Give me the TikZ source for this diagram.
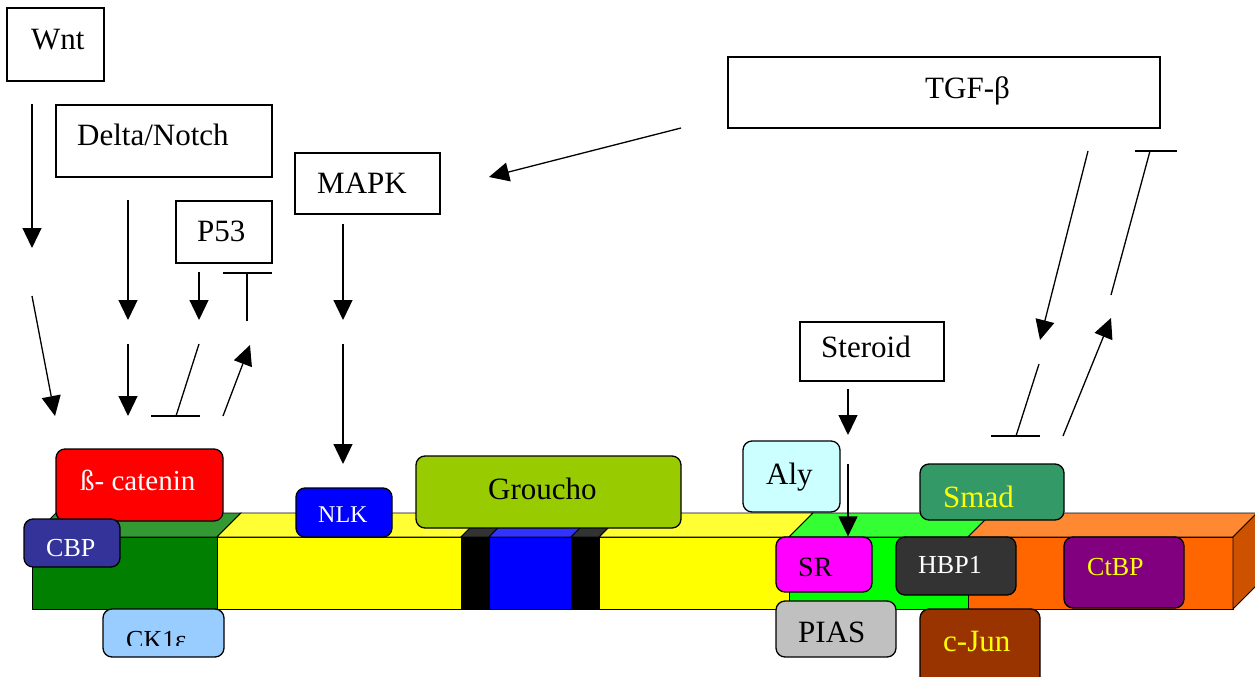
\documentclass[tikz,border=0pt]{standalone}
\usepackage{fontspec}
\setmainfont{Liberation Serif}
\usetikzlibrary{arrows.meta}
\newcommand\fsz[1]{\fontsize{#1}{#1}\selectfont}

% colours of the protein bar
\definecolor{grnfront}{HTML}{007F00}
\definecolor{grntop}{HTML}{339933}
\definecolor{yelfront}{HTML}{FFFF00}
\definecolor{yeltop}{HTML}{FFFF33}
\definecolor{blkfront}{HTML}{000000}
\definecolor{blktop}{HTML}{333333}
\definecolor{blufront}{HTML}{0000FF}
\definecolor{blutop}{HTML}{3333FF}
\definecolor{limefront}{HTML}{00FF00}
\definecolor{limetop}{HTML}{33FF33}
\definecolor{orgfront}{HTML}{FF6600}
\definecolor{orgtop}{HTML}{FF8833}
\definecolor{orgside}{HTML}{CC5200}
% colours of the partner proteins
\definecolor{cbpcol}{HTML}{333399}
\definecolor{ckcol}{HTML}{99CCFF}
\definecolor{grocol}{HTML}{99CC00}
\definecolor{alycol}{HTML}{CCFFFF}
\definecolor{srcol}{HTML}{FF00FF}
\definecolor{piascol}{HTML}{C0C0C0}
\definecolor{smadcol}{HTML}{339966}
\definecolor{ctbpcol}{HTML}{800080}
\definecolor{juncol}{HTML}{993300}
\definecolor{hbpcol}{HTML}{333333}
\definecolor{labelyellow}{HTML}{FFFF00}

% one coloured segment of the bar: front face and top face
\newcommand\barpart[4]{%
  \filldraw[face, fill=#3] (#1,537) rectangle (#2,609);
  \filldraw[face, fill=#4] (#1,537) -- (#2,537) -- (#2+24,513) -- (#1+24,513) -- cycle;}

\begin{document}
\begin{tikzpicture}[x=1pt, y=-1pt,
  face/.style={draw=black, line width=0.9pt},
  sig/.style={draw=black, line width=1.4pt, fill=white, rectangle, inner sep=0pt},
  prot/.style={draw=black, line width=1.3pt, rectangle, rounded corners=9pt, inner sep=0pt},
  txt/.style={anchor=base west, inner sep=0pt, font=\fsz{31}},
  stxt/.style={anchor=base west, inner sep=0pt, font=\fsz{26}},
  act/.style={line width=1.3pt, -{Triangle[length=20pt, width=19pt]}},
  blk/.style={line width=1.3pt}]
\useasboundingbox (0,0) rectangle (1255,677);
\fill[white] (0,0) rectangle (1255,677);

% ---------- the protein bar ----------
\barpart{32}{217}{grnfront}{grntop}
\barpart{217}{461}{yelfront}{yeltop}
\barpart{599}{789}{yelfront}{yeltop}
\barpart{461}{489}{blkfront}{blktop}
\barpart{489}{571}{blufront}{blutop}
\barpart{571}{599}{blkfront}{blktop}
\barpart{789}{968}{limefront}{limetop}
\barpart{968}{1233}{orgfront}{orgtop}
\filldraw[face, fill=orgside] (1233,537) -- (1233,609) -- (1257,585) -- (1257,513) -- cycle;

% ---------- signal boxes ----------
\node[sig, minimum width=97pt, minimum height=73pt] (wnt) at (55.5,44.5) {};
\node[txt] (wntt) at (31,49) {Wnt};
\node[sig, minimum width=216pt, minimum height=72pt] (delta) at (164,141) {};
\node[txt] (deltat) at (77,145) {Delta/Notch};
\node[sig, minimum width=145pt, minimum height=61pt] (mapk) at (367.5,183.5) {};
\node[txt] (mapkt) at (317,193) {MAPK};
\node[sig, minimum width=96pt, minimum height=62pt] (p53) at (224,232) {};
\node[txt] (p53t) at (197,241) {P53};
\node[sig, minimum width=432pt, minimum height=71pt] (tgf) at (944,92.5) {};
\node[txt] (tgft) at (925,99) {TGF-β};
\node[sig, minimum width=144pt, minimum height=59pt] (steroid) at (872,351.5) {};
\node[txt] (steroidt) at (821,357) {Steroid};

% ---------- partner proteins ----------
\node[prot, fill=red, minimum width=167pt, minimum height=72pt] (bcat) at (139.5,485) {};
\node[txt, font=\fsz{29}, text=white] (bcatt) at (80,490) {ß- catenin};
\node[prot, fill=cbpcol, minimum width=96pt, minimum height=48pt] (cbp) at (72,543) {};
\node[stxt, text=white] (cbpt) at (46,556) {CBP};
\node[prot, fill=ckcol, minimum width=121pt, minimum height=48pt] (ck) at (163.5,633) {};
\begin{scope}
  \clip (100,600) rectangle (230,645);
  \node[stxt] (ckt) at (126,648) {CK1ε};
\end{scope}
\node[prot, fill=blue, minimum width=96pt, minimum height=49pt] (nlk) at (344,512.5) {};
\node[stxt, font=\fsz{24}, text=white] (nlkt) at (318,522) {NLK};
\node[prot, fill=grocol, minimum width=265pt, minimum height=72pt] (groucho) at (548.5,492) {};
\node[txt] (grouchot) at (488,499) {Groucho};
\node[prot, fill=alycol, minimum width=97pt, minimum height=71pt] (aly) at (791.5,476.5) {};
\node[txt] (alyt) at (766,484) {Aly};
\node[prot, fill=srcol, minimum width=96pt, minimum height=55pt] (sr) at (824,564.5) {};
\node[stxt, font=\fsz{28}] (srt) at (798,576) {SR};
\node[prot, fill=piascol, minimum width=120pt, minimum height=56pt] (pias) at (836,629) {};
\node[txt] (piast) at (798,642) {PIAS};
\node[prot, fill=hbpcol, minimum width=120pt, minimum height=58pt] (hbp) at (956,566) {};
\node[stxt, text=white] (hbpt) at (918,573) {HBP1};
\node[prot, fill=smadcol, minimum width=144pt, minimum height=56pt] (smad) at (992,492) {};
\node[txt, text=labelyellow] (smadt) at (943,507) {Smad};
\node[prot, fill=ctbpcol, minimum width=120pt, minimum height=71pt] (ctbp) at (1124,572.5) {};
\node[stxt, text=labelyellow] (ctbpt) at (1087,575) {CtBP};
\node[prot, fill=juncol, minimum width=120pt, minimum height=81pt] (cjun) at (980,649.5) {};
\node[txt, text=labelyellow] (cjunt) at (943,651) {c-Jun};

% ---------- connector end points ----------
\coordinate (wa) at (32,104);   \coordinate (wb) at (32,248);
\coordinate (wc) at (32,296);   \coordinate (wd) at (55,416);
\coordinate (da) at (128,200);  \coordinate (db) at (128,320);
\coordinate (dc) at (128,344);  \coordinate (dd) at (128,416);
\coordinate (pa) at (199,272);  \coordinate (pb) at (199,320);
\coordinate (pc) at (247,321);  \coordinate (pd) at (247,273);
\coordinate (pbl) at (223,273); \coordinate (pbr) at (272,273);
\coordinate (pe) at (199,344);  \coordinate (pf) at (176,416);
\coordinate (pfl) at (151,416); \coordinate (pfr) at (200,416);
\coordinate (pg) at (223,416);  \coordinate (ph) at (250,345);
\coordinate (ma) at (343,224);  \coordinate (mb) at (343,320);
\coordinate (mc) at (343,344);  \coordinate (md) at (343,464);
\coordinate (ta) at (681,128);  \coordinate (tb) at (489,177);
\coordinate (tc) at (1088,151); \coordinate (td) at (1040,340);
\coordinate (te) at (1111,295); \coordinate (tf) at (1150,151);
\coordinate (tfl) at (1135,151);\coordinate (tfr) at (1177,151);
\coordinate (tg) at (1039,364); \coordinate (th) at (1016,436);
\coordinate (thl) at (991,436); \coordinate (thr) at (1040,436);
\coordinate (ti) at (1063,436); \coordinate (tj) at (1111,318);
\coordinate (sa) at (848,389);  \coordinate (sb) at (848,435);
\coordinate (sc) at (848,464);

% ---------- connectors ----------
\draw[act] (wa) -- (wb);
\draw[act] (wc) -- (wd);
\draw[act] (da) -- (db);
\draw[act] (dc) -- (dd);
\draw[act] (pa) -- (pb);
\draw[blk] (pc) -- (pd);  \draw[blk] (pbl) -- (pbr);
\draw[blk] (pe) -- (pf);  \draw[blk] (pfl) -- (pfr);
\draw[act] (pg) -- (ph);
\draw[act] (ma) -- (mb);
\draw[act] (mc) -- (md);
\draw[act] (ta) -- (tb);
\draw[act] (tc) -- (td);
\draw[blk] (te) -- (tf);  \draw[blk] (tfl) -- (tfr);
\draw[blk] (tg) -- (th);  \draw[blk] (thl) -- (thr);
\draw[act] (ti) -- (tj);
\draw[act] (sa) -- (sb);
\draw[act] (sc) -- (sr.north -| sc);
\end{tikzpicture}
\end{document}
